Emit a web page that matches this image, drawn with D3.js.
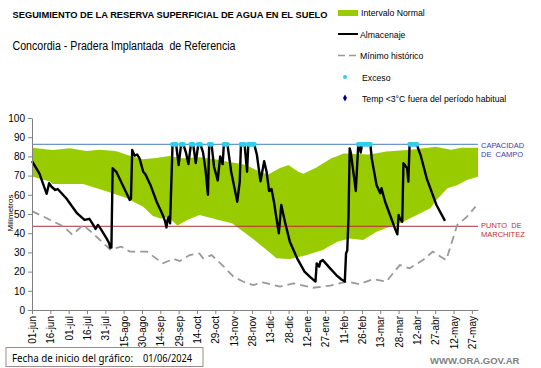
<!DOCTYPE html>
<html><head><meta charset="utf-8">
<script src="https://cdn.jsdelivr.net/npm/d3@7"></script>
<style>
html,body{margin:0;padding:0;background:#fff;}
svg{display:block;font-family:"Liberation Sans",Arial,sans-serif;}
</style></head>
<body>
<svg id="c" width="541" height="368"></svg>
<script>
// ---- DATA (day offset from 01/06/2024, value in mm) ----
const tickLabels = ["01-jun","16-jun","01-jul","16-jul","31-jul","15-ago","30-ago","14-sep","29-sep","14-oct","29-oct","13-nov","28-nov","13-dic","28-dic","12-ene","27-ene","11-feb","26-feb","13-mar","28-mar","12-abr","27-abr","12-may","27-may"];
const yTicks = [0,10,20,30,40,50,60,70,80,90,100];

const normalUpper = [[0,84.5],[17,83.3],[31,84.3],[45,82.8],[55,83.5],[66,83],[70,82.5],[78,80.7],[91,78.5],[102,79.2],[113,80.3],[121,79],[137,79.5],[150,78.5],[162,77],[175,75.5],[185,72.5],[193,70.5],[203,74],[210,75.5],[218,72],[222,71],[232,74],[245,79],[255,81.5],[275,81],[290,82.5],[310,83.5],[330,85],[343,83.5],[352,84.5],[365,84.5]];
const normalLower = [[0,69.5],[15,66.8],[17,65.6],[42,65.6],[53,63.4],[66,60.8],[78,58.2],[83,56.4],[91,53.8],[99,49],[105,47.7],[110,48],[115,46.4],[119,44],[127,46.9],[137,49.5],[151,47.2],[164,45.1],[173,40.8],[183,36],[192,31.3],[200,27],[211,26.5],[225,28.6],[238,31.3],[250,35.6],[260,37.3],[271,36.5],[282,40.8],[293,43.4],[304,46],[315,49.5],[326,53],[331,57.3],[340,63.4],[348,65],[356,67.7],[365,69.4]];

const minimoHistorico = [[0,51.5],[15,46.9],[26,43.4],[33,39.2],[42,44.3],[53,38],[64,31.5],[73,33],[80,30.4],[94,30.4],[107,24.3],[116,26.6],[121,25.5],[129,28.6],[137,29.5],[140,26.9],[147,28.6],[157,22.6],[165,17.3],[173,14.7],[181,13],[189,14.4],[203,12.2],[214,13.9],[230,11.6],[244,12.7],[258,14.8],[268,13.4],[279,16.1],[290,14.8],[301,23.4],[309,21.7],[320,26],[328,30.4],[339,26],[348,44.3],[356,48.6],[363,53.8]];

const almacenaje = [[0,77.5],[6,71.2],[12,60.5],[14,66],[16,64.2],[19,62.5],[21,63],[28,58.2],[37,50.3],[43,46.9],[47,47.5],[50,44.5],[52,42.2],[54,44.3],[56,42.5],[61,37.3],[63,35],[64,32.5],[65,32.5],[66,73.8],[69,72],[80,57.3],[81,58],[82,83.3],[84,80.4],[86,81],[88,79],[91,72],[93,70.5],[97,65],[102,56.4],[107,49.5],[109,46],[110,43],[111,47],[112,48.6],[113,45.1],[115,86],[118,86],[120,75.5],[122,86],[124,86],[126,82],[128,76],[130,86],[132,86],[134,76.5],[136,86],[138,86],[140,82],[142,73],[144,60],[145,86],[147,86],[149,74.5],[152,67.5],[154,80],[156,76],[157,86],[160,86],[163,72],[168,56.4],[170,66.8],[171,86],[174,86],[176,72],[177,86],[182,86],[184,81],[187,67],[190,77.5],[192,72],[194,62],[196,63],[198,56.4],[200,48],[202,40],[204,54.7],[207,46],[211,35.6],[217,26.9],[223,20],[228,17],[232,14.8],[233,24.3],[235,22.6],[236,25.2],[238,26],[244,21.7],[249,18.2],[253,16],[256,14.8],[257,29.5],[258,31],[259,47.7],[260,84.2],[261,81.6],[265,62],[267,86],[268,86],[269,82],[270,86],[277,86],[278,79],[282,65],[285,60.8],[286,63.4],[289,56.4],[293,49.5],[297,42.5],[299,39.4],[300,49.5],[301,47.7],[303,46],[304,76.4],[307,73.8],[308,66.8],[309,86],[315,86],[318,80.7],[323,68.6],[331,54.7],[338,46.4]];

const excesoDays = [115,116,117,118,122,123,124,130,131,132,136,137,138,145,146,147,157,158,159,160,171,172,173,174,177,178,179,180,181,182,267,268,270,271,272,273,274,275,276,277,309,310,311,312,313,314,315];

const capacidadCampo = 86.3;
const puntoMarchitez = 43.6;
const totalDays = 365;

// ---- CHART ----
const svg = d3.select("#c");
const x = d3.scaleLinear().domain([0, totalDays]).range([32, 478]);
const y = d3.scaleLinear().domain([0, 100]).range([310, 118]);

// normal band
const allDays = Array.from(new Set([...normalUpper.map(d=>d[0]), ...normalLower.map(d=>d[0])])).sort((a,b)=>a-b);
const interp = (arr, t) => {
  for (let i=0;i<arr.length-1;i++){
    if (t>=arr[i][0] && t<=arr[i+1][0]){
      const f=(t-arr[i][0])/(arr[i+1][0]-arr[i][0]);
      return arr[i][1]+f*(arr[i+1][1]-arr[i][1]);
    }
  }
  return arr[arr.length-1][1];
};
const bandData = allDays.map(t => ({t, hi: interp(normalUpper,t), lo: interp(normalLower,t)}));
svg.append("path").datum(bandData)
  .attr("fill","#99cc00")
  .attr("d", d3.area().x(d=>x(d.t)).y0(d=>y(d.lo)).y1(d=>y(d.hi)));

// reference lines
svg.append("line").attr("x1",x(0)).attr("x2",x(totalDays)).attr("y1",y(capacidadCampo)).attr("y2",y(capacidadCampo))
  .attr("stroke","#4a7ebb").attr("stroke-width",1);
svg.append("line").attr("x1",x(0)).attr("x2",x(totalDays)).attr("y1",y(puntoMarchitez)).attr("y2",y(puntoMarchitez))
  .attr("stroke","#b03030").attr("stroke-width",1);

// minimo historico
svg.append("path").datum(minimoHistorico)
  .attr("fill","none").attr("stroke","#999").attr("stroke-width",1.8).attr("stroke-dasharray","8,5")
  .attr("d", d3.line().x(d=>x(d[0])).y(d=>y(d[1])));

// almacenaje
svg.append("path").datum(almacenaje)
  .attr("fill","none").attr("stroke","#000").attr("stroke-width",2.4).attr("stroke-linejoin","round")
  .attr("d", d3.line().x(d=>x(d[0])).y(d=>y(d[1])));

// exceso
svg.append("g").selectAll("circle").data(excesoDays).join("circle")
  .attr("cx", d=>x(d)).attr("cy", y(capacidadCampo)).attr("r", 2.4).attr("fill","#33ccf0");

// axes
const yAxis = d3.axisLeft(y).tickValues(yTicks).tickSize(4).tickSizeOuter(0).tickPadding(3);
const gy = svg.append("g").attr("transform","translate(32,0)").call(yAxis);
gy.selectAll("path,line").attr("stroke","#808080");
gy.selectAll("text").attr("font-size","10px").attr("fill","#000").attr("font-family","Liberation Sans, Arial");

const xAxis = d3.axisBottom(x).tickValues(tickLabels.map((l,i)=>i*15)).tickFormat((d,i)=>tickLabels[i]).tickSize(4).tickSizeOuter(0);
const gx = svg.append("g").attr("transform","translate(0,310)").call(xAxis);
gx.selectAll("path,line").attr("stroke","#808080");
gx.selectAll("text").attr("font-size","10px").attr("fill","#000").attr("font-family","Liberation Sans, Arial")
  .attr("text-anchor","end").attr("transform","rotate(-90)").attr("x",-6).attr("y",0).attr("dy","0.35em");

svg.append("text").attr("transform","translate(10,213) rotate(-90)").attr("text-anchor","middle")
  .attr("dy","0.35em").attr("font-size","8px").text("Milímetros");

// right labels
const rl = svg.append("g").attr("font-size","7.5px");
rl.append("text").attr("x",481).attr("y",147.5).attr("fill","#3c3caa").text("CAPACIDAD");
rl.append("text").attr("x",481).attr("y",156.5).attr("fill","#3c3caa").attr("xml:space","preserve").text("DE  CAMPO");
rl.append("text").attr("x",481).attr("y",227.5).attr("fill","#c03030").attr("xml:space","preserve").text("PUNTO  DE");
rl.append("text").attr("x",481).attr("y",236.5).attr("fill","#c03030").text("MARCHITEZ");

// titles
svg.append("text").attr("x",12.5).attr("y",17.5).attr("font-size","9.5px").attr("font-weight","bold")
  .attr("textLength",315).attr("lengthAdjust","spacingAndGlyphs")
  .text("SEGUIMIENTO DE LA RESERVA SUPERFICIAL DE AGUA EN EL SUELO");
svg.append("text").attr("x",12.5).attr("y",49.5).attr("font-size","12px")
  .attr("textLength",223).attr("lengthAdjust","spacingAndGlyphs").attr("xml:space","preserve")
  .text("Concordia - Pradera Implantada  de Referencia");

// legend
const lg = svg.append("g").attr("font-size","8.7px");
lg.append("rect").attr("x",338).attr("y",10).attr("width",20).attr("height",6).attr("fill","#99cc00");
lg.append("text").attr("x",361).attr("y",16).text("Intervalo Normal");
lg.append("line").attr("x1",338).attr("x2",358).attr("y1",34).attr("y2",34).attr("stroke","#000").attr("stroke-width",2);
lg.append("text").attr("x",360).attr("y",37.5).text("Almacenaje");
lg.append("line").attr("x1",338).attr("x2",358).attr("y1",55.5).attr("y2",55.5).attr("stroke","#999").attr("stroke-width",1.5).attr("stroke-dasharray","7,4");
lg.append("text").attr("x",360).attr("y",59).text("Mínimo histórico");
lg.append("circle").attr("cx",345).attr("cy",77).attr("r",2).attr("fill","#33ccf0");
lg.append("text").attr("x",362).attr("y",80.5).text("Exceso");
lg.append("path").attr("d",d3.symbol(d3.symbolDiamond,14)()).attr("transform","translate(345,98)").attr("fill","#000080");
lg.append("text").attr("x",362).attr("y",101.5).text("Temp <3°C fuera del período habitual");

// footer
svg.append("rect").attr("x",6).attr("y",347.5).attr("width",197).attr("height",19)
  .attr("fill","none").attr("stroke","#a08a8a").attr("stroke-width",1);
svg.append("text").attr("x",12).attr("y",361.5).attr("font-size","11px").attr("font-family","Noto Sans, Liberation Sans")
  .attr("textLength",121).attr("lengthAdjust","spacingAndGlyphs").text("Fecha de inicio del gráfico:");
svg.append("text").attr("x",143).attr("y",361.5).attr("font-size","11px").attr("font-family","Noto Sans, Liberation Sans")
  .attr("textLength",49).attr("lengthAdjust","spacingAndGlyphs").text("01/06/2024");
svg.append("text").attr("x",430).attr("y",364).attr("font-size","9.5px").attr("font-weight","bold").attr("fill","#7f7f7f")
  .text("WWW.ORA.GOV.AR");
</script>
</body></html>
